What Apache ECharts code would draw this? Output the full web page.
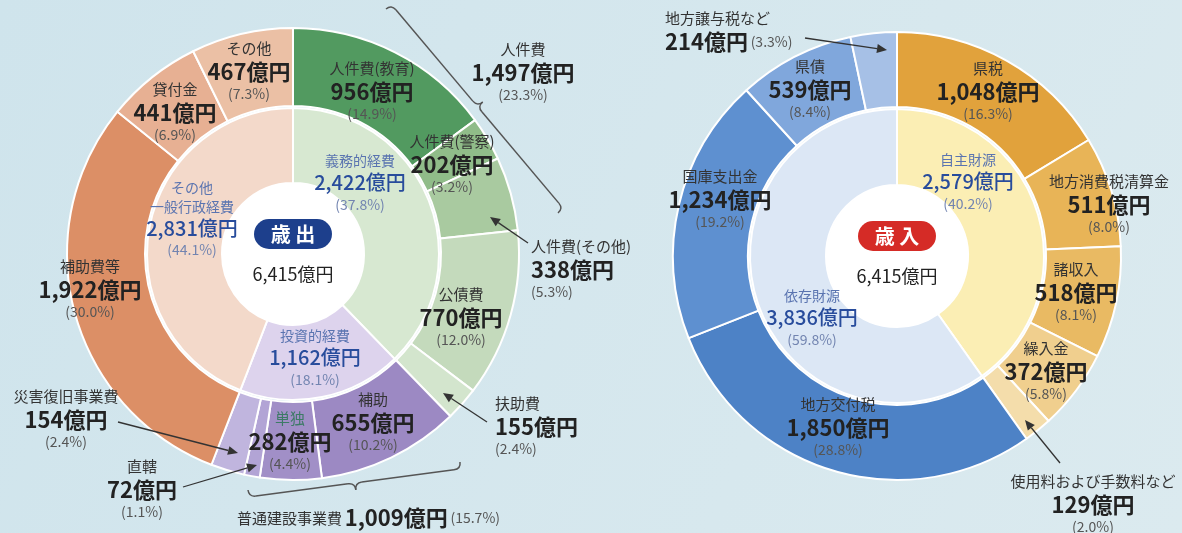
<!DOCTYPE html>
<html>
<head>
<meta charset="utf-8">
<script src="https://cdn.jsdelivr.net/npm/echarts@6/dist/echarts.min.js"></script>
<style>
  html, body { margin: 0; padding: 0; }
  #chart { width: 1182px; height: 533px; }
</style>
</head>
<body>
<div id="chart"></div>
<script>
// 歳出
const expNames = ['人件費(教育)', '人件費(警察)', '人件費(その他)', '公債費', '扶助費', '補助', '単独', '直轄', '災害復旧事業費', '補助費等', '貸付金', 'その他'];
const expValues = [956, 202, 338, 770, 155, 655, 282, 72, 154, 1922, 441, 467];
const expPcts = [14.9, 3.2, 5.3, 12.0, 2.4, 10.2, 4.4, 1.1, 2.4, 30.0, 6.9, 7.3];
const expGroupNames = ['義務的経費', '投資的経費', 'その他\n一般行政経費'];
const expGroupValues = [2422, 1162, 2831];
const expGroupPcts = [37.8, 18.1, 44.1];
const expSubNames = ['人件費', '普通建設事業費'];
const expSubValues = [1497, 1009];
const expSubPcts = [23.3, 15.7];
const expTotal = 6415;

// 歳入
const revNames = ['県税', '地方消費税清算金', '諸収入', '繰入金', '使用料および手数料など', '地方交付税', '国庫支出金', '県債', '地方譲与税など'];
const revValues = [1048, 511, 518, 372, 129, 1850, 1234, 539, 214];
const revPcts = [16.3, 8.0, 8.1, 5.8, 2.0, 28.8, 19.2, 8.4, 3.3];
const revGroupNames = ['自主財源', '依存財源'];
const revGroupValues = [2579, 3836];
const revGroupPcts = [40.2, 59.8];
const revTotal = 6415;

// colours / layout
const expColors = ['#529a60', '#90bc89', '#a9caa0', '#c4dabc', '#d3e5cd', '#9c89c3', '#a18fc7', '#b2a4d5', '#c0b5de', '#dc8f66', '#e7b093', '#ebc0a5'];
const expGroupColors = ['#d7e8d1', '#ddd3ed', '#f3d9ca'];
const revColors = ['#e1a23c', '#e8b457', '#e9ba63', '#f0cf8e', '#f4ddab', '#4d82c6', '#5e90d0', '#80a7dc', '#a6c0e6'];
const revGroupColors = ['#fbeeb4', '#dce7f5'];

const expLabelPos = [[372, 90], [452, 163], [531, 268, 'left'], [461, 316], [495, 425, 'left'], [373, 421], [290, 440], [142, 488], [66, 418], [90, 288], [175, 111], [249, 70]];
const expGroupLabelPos = [[360, 183], [315, 358], [192, 219]];
const revLabelPos = [[988, 90], [1109, 203], [1076, 291], [1046, 370], [1093, 503], [838, 426], [720, 198], [810, 88], [665, 30, 'left']];
const revGroupLabelPos = [[968, 182], [812, 318]];

const FONT = 'Noto Sans CJK JP';
const C1 = [293, 254];
const C2 = [897, 256];

function yen(v) { return v.toLocaleString('en-US') + '億円'; }
function pct(p) { return '(' + p.toFixed(1) + '%)'; }

const richOuter = {
  n: { fontFamily: FONT, fontSize: 15, color: '#333', lineHeight: 24 },
  g: { fontFamily: FONT, fontSize: 15, color: '#3d7a66', lineHeight: 24 },
  v: { fontFamily: FONT, fontSize: 22, fontWeight: 'bold', color: '#222', lineHeight: 24 },
  p: { fontFamily: FONT, fontSize: 14, color: '#555', lineHeight: 20 }
};
const richInner = {
  n: { fontFamily: FONT, fontSize: 14, color: '#5a74b0', lineHeight: 19 },
  v: { fontFamily: FONT, fontSize: 20, fontWeight: 500, color: '#284c9c', lineHeight: 24 },
  p: { fontFamily: FONT, fontSize: 14, color: '#7284b0', lineHeight: 20 }
};

function layoutFrom(list) {
  return function (p) {
    const l = list[p.dataIndex];
    return { x: l[0], y: l[1], align: l[2] || 'center', verticalAlign: 'middle' };
  };
}

function ring(center, radius, names, values, colors, labelFmt, rich, pos) {
  return {
    type: 'pie',
    center: center,
    radius: radius,
    startAngle: 90,
    clockwise: true,
    silent: true,
    animation: false,
    itemStyle: { borderColor: '#fff', borderWidth: 2 },
    label: { show: true, position: 'inside', formatter: labelFmt, rich: rich },
    labelLine: { show: false },
    labelLayout: layoutFrom(pos),
    emphasis: { disabled: true },
    data: names.map(function (n, i) {
      return { name: n, value: values[i], itemStyle: { color: colors[i] } };
    })
  };
}

// graphic helpers
function arrow(from, to) {
  const dx = to[0] - from[0], dy = to[1] - from[1], len = Math.hypot(dx, dy);
  const ux = dx / len, uy = dy / len, hl = 10, hw = 4.5;
  const bx = to[0] - ux * hl, by = to[1] - uy * hl;
  return [
    { type: 'line', z: 50, shape: { x1: from[0], y1: from[1], x2: bx, y2: by }, style: { stroke: '#333', lineWidth: 1.3 } },
    { type: 'polygon', z: 50, shape: { points: [to, [bx - uy * hw, by + ux * hw], [bx + uy * hw, by - ux * hw]] }, style: { fill: '#333' } }
  ];
}

function brace(A, B, h, sign) {
  const dx = B[0] - A[0], dy = B[1] - A[1], len = Math.hypot(dx, dy);
  const u = [dx / len, dy / len];
  const n = [sign * u[1], -sign * u[0]];
  const M = [(A[0] + B[0]) / 2, (A[1] + B[1]) / 2];
  const pt = function (P, a, b) { return [P[0] + u[0] * a + n[0] * b, P[1] + u[1] * a + n[1] * b]; };
  const st = { stroke: '#555', lineWidth: 1.5, fill: null };
  const q = function (p0, c, p1) {
    return { type: 'bezierCurve', z: 50, shape: { x1: p0[0], y1: p0[1], cpx1: c[0], cpy1: c[1], x2: p1[0], y2: p1[1] }, style: st };
  };
  const ln = function (p0, p1) {
    return { type: 'line', z: 50, shape: { x1: p0[0], y1: p0[1], x2: p1[0], y2: p1[1] }, style: st };
  };
  return [
    q(A, pt(A, 0, h), pt(A, h, h)),
    ln(pt(A, h, h), pt(M, -h, h)),
    q(pt(M, -h, h), pt(M, 0, h), pt(M, 0, 2 * h)),
    q(pt(M, 0, 2 * h), pt(M, 0, h), pt(M, h, h)),
    ln(pt(M, h, h), pt(B, -h, h)),
    q(pt(B, -h, h), pt(B, 0, h), B)
  ];
}

function gText(x, y, text, rich, align) {
  return { type: 'text', z: 60, x: x, y: y, style: { text: text, rich: rich, align: align || 'center', verticalAlign: 'middle', fontFamily: FONT } };
}

const gRich = {
  n: { fontFamily: FONT, fontSize: 15, fill: '#333', lineHeight: 24 },
  v: { fontFamily: FONT, fontSize: 22, fontWeight: 'bold', fill: '#222', lineHeight: 24 },
  p: { fontFamily: FONT, fontSize: 14, fill: '#555', lineHeight: 20 }
};

// white disc sits under the series so ring labels can overlap it
function center(c, label, badgeColor, total) {
  return [
    { type: 'circle', z: 1, shape: { cx: c[0], cy: c[1], r: 72 }, style: { fill: '#fff' } },
    { type: 'rect', z: 1, shape: { x: c[0] - 39, y: c[1] - 35, width: 78, height: 30, r: 15 }, style: { fill: badgeColor } },
    { type: 'text', z: 1, x: c[0], y: c[1] - 20, style: { text: label, fill: '#fff', fontFamily: FONT, fontSize: 20, fontWeight: 'bold', align: 'center', verticalAlign: 'middle' } },
    { type: 'text', z: 1, x: c[0], y: c[1] + 20, style: { text: yen(total), fill: '#222', fontFamily: FONT, fontSize: 18, align: 'center', verticalAlign: 'middle' } }
  ];
}

const graphics = []
  .concat(center(C1, '歳 出', '#1d3f8c', expTotal))
  .concat(center(C2, '歳 入', '#d52b26', revTotal))
  .concat(brace([386, 9], [558, 213], 7, 1))
  .concat(brace([248, 490], [460, 462], 7, -1))
  .concat(arrow([528, 243], [490, 217]))
  .concat(arrow([487, 422], [443, 393]))
  .concat(arrow([118, 422], [238, 453]))
  .concat(arrow([183, 487], [257, 465]))
  .concat(arrow([805, 38], [887, 50]))
  .concat(arrow([1060, 463], [1025, 420]))
  .concat([
    gText(523, 71, '{n|' + expSubNames[0] + '}\n{v|' + yen(expSubValues[0]) + '}\n{p|' + pct(expSubPcts[0]) + '}', gRich),
    gText(237, 518, '{n|' + expSubNames[1] + '} {v|' + yen(expSubValues[1]) + '} {p|' + pct(expSubPcts[1]) + '}', gRich, 'left')
  ]);

const chart = echarts.init(document.getElementById('chart'));
chart.setOption({
  backgroundColor: {
    type: 'linear', x: 0, y: 0, x2: 1, y2: 1,
    colorStops: [{ offset: 0, color: '#cfe4ec' }, { offset: 1, color: '#dbeaef' }]
  },
  textStyle: { fontFamily: FONT },
  series: [
    ring(C1, [148, 226], expNames, expValues, expColors, function (p) {
      const nm = p.dataIndex === 6 ? 'g' : 'n';
      return '{' + nm + '|' + p.name + '}\n{v|' + yen(p.value) + '}\n{p|' + pct(expPcts[p.dataIndex]) + '}';
    }, richOuter, expLabelPos),
    ring(C1, [71, 146], expGroupNames, expGroupValues, expGroupColors, function (p) {
      return '{n|' + p.name + '}\n{v|' + yen(p.value) + '}\n{p|' + pct(expGroupPcts[p.dataIndex]) + '}';
    }, richInner, expGroupLabelPos),
    ring(C2, [149, 224], revNames, revValues, revColors, function (p) {
      if (p.dataIndex === 8) {
        return '{n|' + p.name + '}\n{v|' + yen(p.value) + '} {p|' + pct(revPcts[p.dataIndex]) + '}';
      }
      return '{n|' + p.name + '}\n{v|' + yen(p.value) + '}\n{p|' + pct(revPcts[p.dataIndex]) + '}';
    }, richOuter, revLabelPos),
    ring(C2, [71, 147], revGroupNames, revGroupValues, revGroupColors, function (p) {
      return '{n|' + p.name + '}\n{v|' + yen(p.value) + '}\n{p|' + pct(revGroupPcts[p.dataIndex]) + '}';
    }, richInner, revGroupLabelPos)
  ],
  graphic: graphics
});
</script>
</body>
</html>
